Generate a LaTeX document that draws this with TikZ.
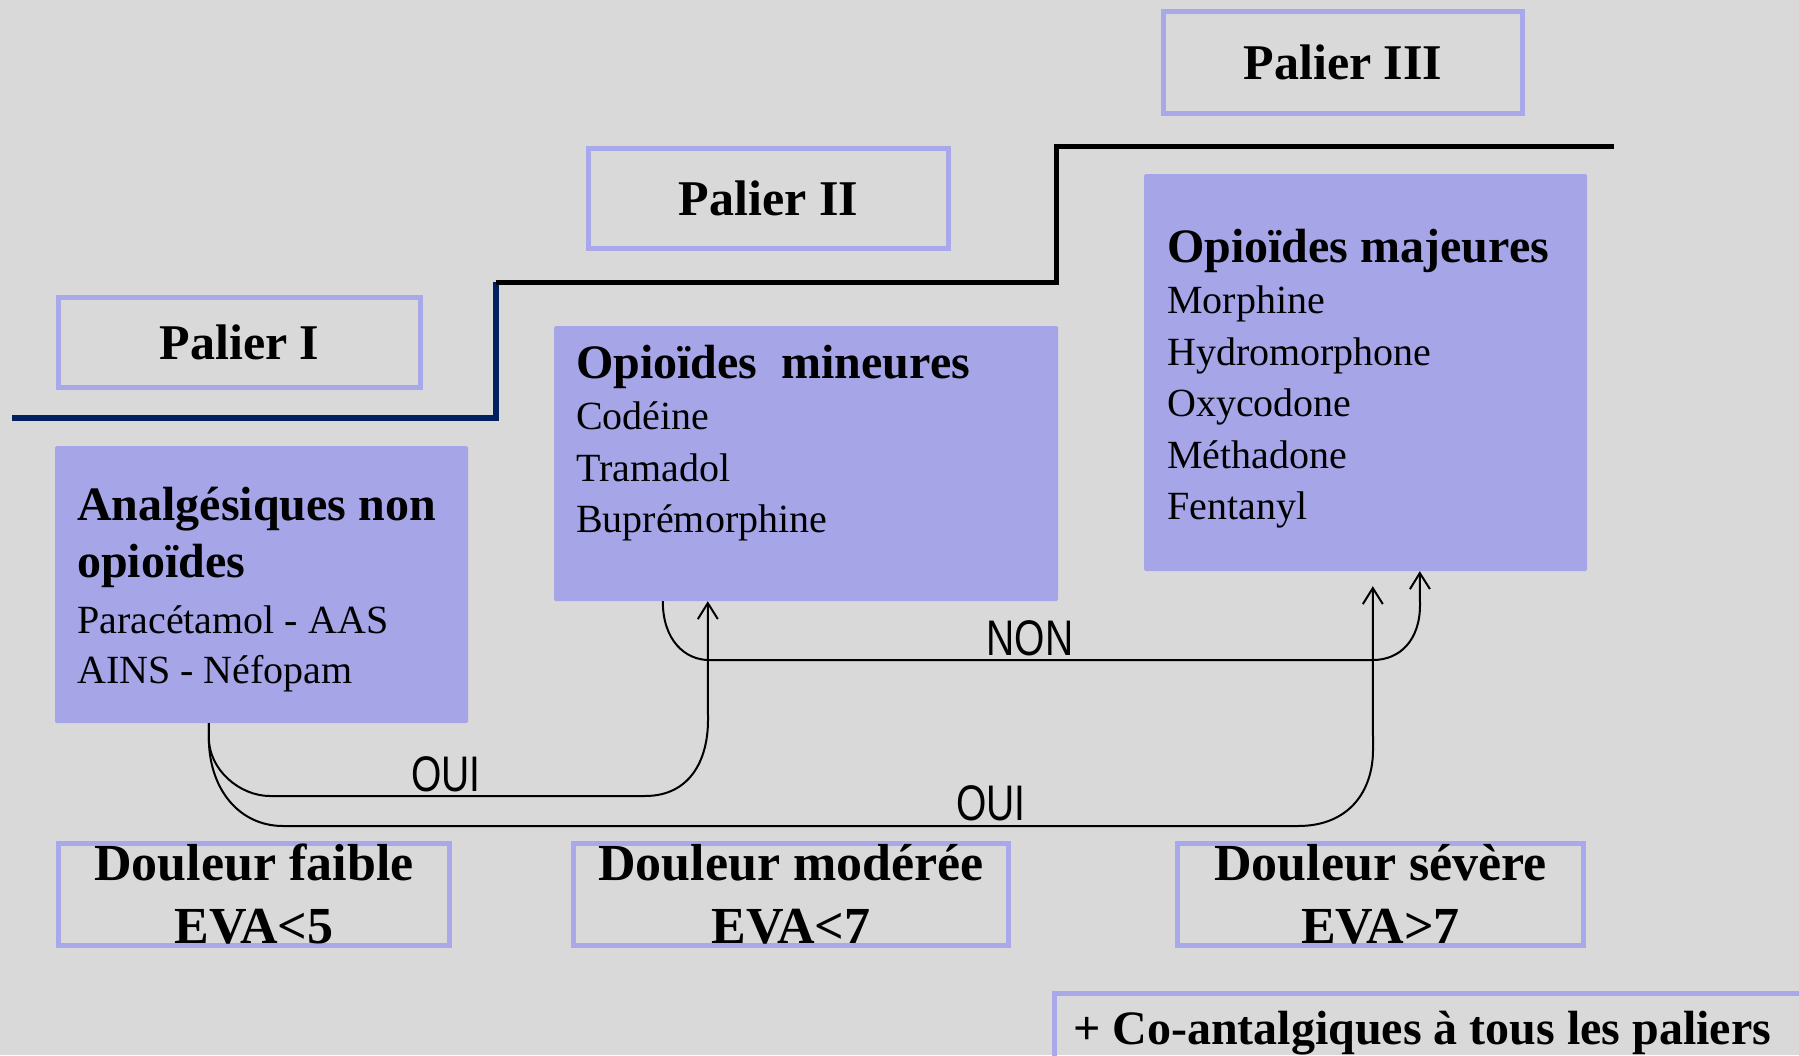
\documentclass[tikz,border=0pt]{standalone}
\usepackage{fontspec}
\setmainfont{Liberation Serif}
\newfontfamily\lblfont{Liberation Sans}
\usetikzlibrary{arrows.meta,calc}
\definecolor{bg}{HTML}{D9D9D9}
\definecolor{drugfill}{HTML}{A5A5E8}
\definecolor{frame}{HTML}{A8A8EA}
\definecolor{navy}{HTML}{002060}
\begin{document}
\begin{tikzpicture}[x=1pt,y=-1pt,
  level/.style={draw=frame, line width=5pt, fill=bg, inner sep=0pt,
    font=\fontsize{50}{60}\selectfont\bfseries},
  pain/.style={level, align=center, font=\fontsize{52}{63}\selectfont\bfseries},
  drug/.style={fill=drugfill, rounded corners=1.5pt, inner sep=0pt},
  druglist/.style={anchor=north west, inner sep=0pt, align=left,
    font=\fontsize{40}{51.5}\selectfont},
  conn/.style={draw=black, line width=2pt},
  tip/.style={conn, -{Straight Barb[length=16pt,width=20pt]}},
  answer/.style={inner sep=0pt, font=\lblfont\fontsize{50}{50}\selectfont},
  stairs/.style={line width=6pt, line cap=butt, line join=miter}
]
% canvas
\fill[bg] (0,0) rectangle (1799,1055);
\useasboundingbox (0,0) rectangle (1799,1055);

% staircase
\draw[stairs, navy] (12,418) -- (496,418) -- (496,282);
\draw[stairs, black, line width=5pt] (496,282) -- (1056,282) -- (1056,146) -- (1614,146);

% level headings
\node[level, minimum width=362pt, minimum height=90pt] (p1) at (239.5,342.5) {Palier I};
\node[level, minimum width=360pt, minimum height=100pt] (p2) at (768.5,198.5) {Palier II};
\node[level, minimum width=359pt, minimum height=102pt] (p3) at (1343,62.5) {Palier III};

% drug boxes
\node[drug, minimum width=413pt, minimum height=277pt] (b1) at (261.5,584.5) {};
\node[drug, minimum width=504pt, minimum height=275pt] (b2) at (806,463.5) {};
\node[drug, minimum width=443pt, minimum height=397pt] (b3) at (1365.5,372.5) {};

\node[druglist] (t1) at (77,480) {\rule{0pt}{40pt}{\fontsize{48}{51.5}\selectfont\bfseries Analgésiques non}\\[6pt]
  {\fontsize{48}{51.5}\selectfont\bfseries opioïdes}\\[4pt]
  Paracétamol - AAS\\[-1pt]
  AINS - Néfopam};
\node[druglist] (t2) at (576,338) {\rule{0pt}{40pt}{\fontsize{48}{51.5}\selectfont\bfseries Opioïdes~ mineures}\\
  Codéine\\
  Tramadol\\
  Buprémorphine};
\node[druglist] (t3) at (1167,222) {\rule{0pt}{40pt}{\fontsize{48}{51.5}\selectfont\bfseries Opioïdes majeures}\\
  Morphine\\
  Hydromorphone\\
  Oxycodone\\
  Méthadone\\
  Fentanyl};

% pain intensity boxes
\node[pain, minimum width=391pt, minimum height=102pt] (d1) at (254,894.5) {Douleur faible\\EVA<5};
\node[pain, minimum width=435pt, minimum height=102pt] (d2) at (791,894.5) {Douleur modérée\\EVA<7};
\node[pain, minimum width=406pt, minimum height=102pt] (d3) at (1380.5,894.5) {Douleur sévère\\EVA>7};

% adjuvants note, its frame running off the page
\node[anchor=base west, inner sep=0pt, font=\fontsize{48}{50}\selectfont\bfseries] (co) at (1073,1044) {+ Co-antalgiques à tous les paliers};
\draw[draw=frame, line width=5pt] ($(co.base west)+(-18.5,120)$) |- ($(co.base west)+(800,-50.5)$);

% connector end points
\coordinate (s1) at ($(b1.south west)+(154,0)$);
\coordinate (s2) at ($(b2.south west)+(109,0)$);
\coordinate (e1) at ($(b2.south west)+(154,0)$);
\coordinate (e2) at ($(b3.south west)+(229,15)$);
\coordinate (e3) at ($(b3.south west)+(276,0)$);

% Palier I -> Palier II
\draw[tip] (s1) -- ++(0,14) .. controls ++(0,33) and (240,796) .. (270,796)
  -- (645,796) .. controls (690,796) and (708,760) .. (708,720) -- (e1);
% Palier I -> Palier III
\draw[tip] (s1) -- ++(0,14) .. controls ++(0,53) and (240,826) .. (283,826)
  -- (1298,826) .. controls (1350,826) and (1373,790) .. (1373,750) -- (e2);
% Palier II -> Palier III
\draw[tip] (s2) .. controls ++(0,39) and (685,660) .. (709,660)
  -- (1373,660) .. controls (1400,660) and (1420,640) .. (1420,605) -- (e3);

% answers
\node[answer] (oui1) at (446,774) {\scalebox{0.78}[1]{OUI}};
\node[answer] (oui2) at (991,803) {\scalebox{0.78}[1]{OUI}};
\node[answer] (non) at (1030,638) {\scalebox{0.78}[1]{NON}};
\end{tikzpicture}
\end{document}
